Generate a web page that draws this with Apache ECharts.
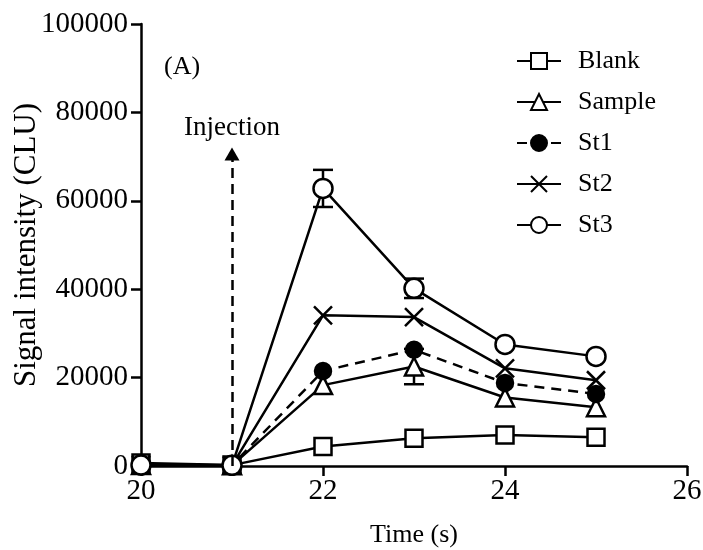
<!DOCTYPE html>
<html>
<head>
<meta charset="utf-8">
<title>Signal intensity vs time</title>
<script src="https://cdn.jsdelivr.net/npm/echarts@6/dist/echarts.min.js"></script>
<style>
  html, body { margin: 0; padding: 0; background: #fff; }
  #chart { width: 703px; height: 550px; }
</style>
</head>
<body>
<div id="chart"></div>
<script>
// Sampling times (s)
var times = [20, 21, 22, 23, 24, 25];

// Mean signal intensity (CLU) for each solution
var blank  = [700, 200, 4400, 6300, 7000, 6500];
var sample = [200, 150, 18300, 22500, 15500, 13300];
var st1    = [250, 150, 21500, 26300, 18800, 16300];
var st2    = [250, 150, 34100, 33700, 22100, 19400];
var st3    = [200, 150, 62800, 40200, 27500, 24800];

// Standard deviations (only the visible ones)
var sampleErr = [0, 0, 0, 4000, 0, 0];
var st3Err    = [0, 0, 4200, 2200, 0, 0];

// Axis ticks
var xTicks = [20, 22, 24, 26];
var yTicks = [0, 20000, 40000, 60000, 80000, 100000];

// Injection moment and arrow end height
var injectionTime = 21;
var injectionTip = 70600;

var FONT = '"Liberation Serif", "Times New Roman", serif';
var LW = 2.5;

function pairs(ys) {
  return times.map(function (t, i) { return [t, ys[i]]; });
}
function errPairs(ys, es) {
  var out = [];
  times.forEach(function (t, i) { if (es[i] > 0) out.push([t, ys[i], es[i]]); });
  return out;
}

function errorBarSeries(ys, es) {
  return {
    type: 'custom',
    silent: true,
    z: 1,
    data: errPairs(ys, es),
    renderItem: function (params, api) {
      var x = api.value(0), y = api.value(1), e = api.value(2);
      var top = api.coord([x, y + e]);
      var bot = api.coord([x, y - e]);
      var hw = 10;
      var st = { stroke: '#000', lineWidth: LW };
      return {
        type: 'group',
        children: [
          { type: 'line', shape: { x1: top[0], y1: top[1], x2: bot[0], y2: bot[1] }, style: st },
          { type: 'line', shape: { x1: top[0] - hw, y1: top[1], x2: top[0] + hw, y2: top[1] }, style: st },
          { type: 'line', shape: { x1: bot[0] - hw, y1: bot[1], x2: bot[0] + hw, y2: bot[1] }, style: st }
        ]
      };
    }
  };
}

function lineSeries(name, ys, symbol, size, fill, dashed) {
  return {
    name: name,
    type: 'line',
    data: pairs(ys),
    symbol: symbol,
    symbolSize: size,
    showAllSymbol: true,
    z: 3,
    lineStyle: { color: '#000', width: LW, type: dashed ? [10, 7] : 'solid' },
    itemStyle: { color: fill, borderColor: '#000', borderWidth: LW, opacity: 1 },
    emphasis: { disabled: true }
  };
}

var crossPath = 'path://M0,0L10,10M10,0L0,10';

var chart = echarts.init(document.getElementById('chart'), null, { renderer: 'canvas' });

var blankSeries = lineSeries('Blank', blank, 'rect', 17, '#fff', false);
blankSeries.markLine = {
  silent: true,
  symbol: ['none', 'triangle'],
  symbolSize: [15, 13],
  lineStyle: { color: '#000', width: LW, type: [10, 6] },
  label: {
    show: true,
    position: 'end',
    formatter: 'Injection',
    color: '#000',
    fontFamily: FONT,
    fontSize: 27,
    distance: 13
  },
  data: [[{ coord: [injectionTime, 0] }, { coord: [injectionTime, injectionTip] }]]
};

chart.setOption({
  backgroundColor: '#fff',
  animation: false,
  title: {
    text: '(A)',
    left: 159,
    top: 49,
    textStyle: { fontFamily: FONT, fontSize: 26, fontWeight: 'normal', color: '#000' }
  },
  legend: {
    orient: 'vertical',
    left: 511,
    top: 43,
    itemWidth: 44,
    itemHeight: 20,
    itemGap: 15,
    data: ['Blank', 'Sample', 'St1', 'St2', 'St3'],
    textStyle: { fontFamily: FONT, fontSize: 26, color: '#000', lineHeight: 26, padding: [0, 0, 0, 12] }
  },
  grid: { left: 141, right: 16, top: 24, bottom: 84, containLabel: false, outerBoundsMode: 'none' },
  xAxis: {
    type: 'value',
    min: xTicks[0],
    max: xTicks[xTicks.length - 1],
    interval: xTicks[1] - xTicks[0],
    name: 'Time (s)',
    nameLocation: 'middle',
    nameGap: 56,
    nameMoveOverlap: false,
    nameTextStyle: { fontFamily: FONT, fontSize: 26, color: '#000' },
    axisLine: { lineStyle: { color: '#000', width: LW } },
    axisTick: { length: 10, lineStyle: { color: '#000', width: LW } },
    axisLabel: { margin: 11, fontFamily: FONT, fontSize: 29, color: '#000' },
    splitLine: { show: false }
  },
  yAxis: {
    type: 'value',
    min: yTicks[0],
    max: yTicks[yTicks.length - 1],
    interval: yTicks[1] - yTicks[0],
    name: 'Signal intensity (CLU)',
    nameLocation: 'middle',
    nameGap: 99,
    nameMoveOverlap: false,
    nameTextStyle: { fontFamily: FONT, fontSize: 31, color: '#000' },
    axisLine: { show: true, lineStyle: { color: '#000', width: LW } },
    axisTick: { show: true, length: 10, lineStyle: { color: '#000', width: LW } },
    axisLabel: {
      margin: 13, fontFamily: FONT, fontSize: 29, color: '#000',
      formatter: function (v) { return String(v); }
    },
    splitLine: { show: false }
  },
  series: [
    errorBarSeries(sample, sampleErr),
    errorBarSeries(st3, st3Err),
    blankSeries,
    lineSeries('Sample', sample, 'triangle', 18, '#fff', false),
    lineSeries('St1', st1, 'circle', 16, '#000', true),
    lineSeries('St2', st2, crossPath, 18, '#000', false),
    lineSeries('St3', st3, 'circle', 19, '#fff', false)
  ]
});
</script>
</body>
</html>
